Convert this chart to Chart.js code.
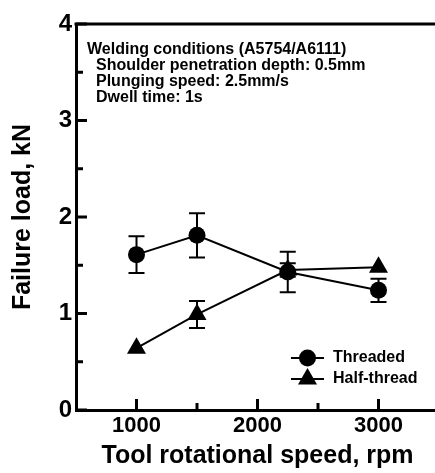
<!DOCTYPE html>
<html>
<head>
<meta charset="utf-8">
<script src="https://cdn.jsdelivr.net/npm/chart.js@4.4.1/dist/chart.umd.min.js"></script>
<style>
html, body { margin: 0; padding: 0; background: #fff; overflow: hidden; }
#wrap { position: relative; width: 450px; height: 473px; }
</style>
</head>
<body>
<div id="wrap"><canvas id="failure-load-chart" width="450" height="473"></canvas></div>
<script>
// Chart data
var speeds = [1000, 1500, 2250, 3000];
var threadedLoad = [1.61, 1.81, 1.43, 1.24];
var threadedErr = [0.19, 0.23, 0.21, 0.12];
var halfThreadLoad = [0.64, 0.99, 1.45, 1.48];
var halfThreadErr = [0, 0.14, 0.07, 0];
var seriesLabels = ["Threaded", "Half-thread"];

// Axes
var xTickValues = [1000, 2000, 3000];
var xMinorTicks = [1500, 2500];
var yMinorTicks = [0.5, 1.5, 2.5, 3.5];
var xTitle = "Tool rotational speed, rpm";
var yTitle = "Failure load, kN";
var conditionsText = [
    "Welding conditions (A5754/A6111)",
    "Shoulder penetration depth: 0.5mm",
    "Plunging speed: 2.5mm/s",
    "Dwell time: 1s"
];

var FONT = "'Liberation Sans', Arial, sans-serif";

function toPoints(load) {
    return speeds.map(function (s, i) { return { x: s, y: load[i] }; });
}

// error bars, inner ticks, frame top, notes and legend
var extrasPlugin = {
    id: 'extras',
    beforeDatasetsDraw: function (chart) {
        var ctx = chart.ctx, ys = chart.scales.y, xs = chart.scales.x;
        ctx.save();
        ctx.strokeStyle = '#000';
        ctx.lineWidth = 2;
        chart.data.datasets.forEach(function (ds) {
            ds.data.forEach(function (p, i) {
                var e = ds.errors[i];
                if (!e) return;
                var x = xs.getPixelForValue(p.x);
                var yTop = ys.getPixelForValue(p.y + e);
                var yBot = ys.getPixelForValue(p.y - e);
                ctx.beginPath();
                ctx.moveTo(x, yTop); ctx.lineTo(x, yBot);
                ctx.moveTo(x - 8, yTop); ctx.lineTo(x + 8, yTop);
                ctx.moveTo(x - 8, yBot); ctx.lineTo(x + 8, yBot);
                ctx.stroke();
            });
        });
        ctx.restore();
    },
    afterDraw: function (chart) {
        var ctx = chart.ctx, area = chart.chartArea;
        var xs = chart.scales.x, ys = chart.scales.y;
        ctx.save();
        ctx.strokeStyle = '#000';
        ctx.lineWidth = 3;
        // top frame line
        ctx.beginPath();
        ctx.moveTo(area.left - 1.5, area.top);
        ctx.lineTo(area.right, area.top);
        ctx.stroke();
        // inward ticks
        ctx.beginPath();
        xs.ticks.forEach(function (t) {
            var x = xs.getPixelForValue(t.value);
            ctx.moveTo(x, area.bottom); ctx.lineTo(x, area.bottom - 11);
        });
        xMinorTicks.forEach(function (v) {
            var x = xs.getPixelForValue(v);
            ctx.moveTo(x, area.bottom); ctx.lineTo(x, area.bottom - 7);
        });
        ys.ticks.forEach(function (t) {
            var y = ys.getPixelForValue(t.value);
            ctx.moveTo(area.left, y); ctx.lineTo(area.left + 11, y);
        });
        yMinorTicks.forEach(function (v) {
            var y = ys.getPixelForValue(v);
            ctx.moveTo(area.left, y); ctx.lineTo(area.left + 7, y);
        });
        ctx.stroke();

        // welding conditions note
        ctx.fillStyle = '#000';
        ctx.textBaseline = 'middle';
        ctx.font = 'bold 16px ' + FONT;
        conditionsText.forEach(function (line, i) {
            ctx.fillText(line, i === 0 ? 87 : 96, 50 + i * 15.7);
        });

        // legend
        ctx.font = 'bold 16px ' + FONT;
        ctx.lineWidth = 2;
        chart.data.datasets.forEach(function (ds, i) {
            var cy = 358 + i * 21;
            ctx.beginPath();
            ctx.moveTo(291, cy); ctx.lineTo(324, cy);
            ctx.stroke();
            ctx.fillStyle = '#000';
            Chart.helpers.drawPoint(ctx, {
                pointStyle: ds.pointStyle, radius: ds.pointRadius, rotation: 0, borderWidth: 0
            }, 307.5, cy);
            ctx.fillText(ds.label, 333, cy);
        });
        ctx.restore();
    }
};

var ctx = document.getElementById('failure-load-chart');

var config = {
    type: 'scatter',
    data: {
        datasets: [{
            label: seriesLabels[0],
            data: toPoints(threadedLoad),
            errors: threadedErr,
            showLine: true,
            borderColor: '#000',
            borderWidth: 2,
            pointStyle: 'circle',
            pointRadius: 8.5,
            pointBackgroundColor: '#000',
            pointBorderWidth: 0
        }, {
            label: seriesLabels[1],
            data: toPoints(halfThreadLoad),
            errors: halfThreadErr,
            showLine: true,
            borderColor: '#000',
            borderWidth: 2,
            pointStyle: 'triangle',
            pointRadius: 11,
            pointBackgroundColor: '#000',
            pointBorderWidth: 0
        }]
    },
    options: {
        responsive: false,
        animation: false,
        layout: { padding: { left: 0, right: 8, top: 24, bottom: 0 } },
        plugins: { legend: { display: false }, tooltip: { enabled: false } },
        scales: {
            x: {
                type: 'linear',
                min: 500,
                max: 3500,
                afterFit: function (s) { s.height = 63; },
                afterBuildTicks: function (s) {
                    s.ticks = xTickValues.map(function (v) { return { value: v }; });
                },
                ticks: {
                    font: { family: FONT, size: 22, weight: 'bold' }, color: '#000', padding: 3,
                    callback: function (v) { return String(v); }
                },
                grid: { display: false, drawTicks: false },
                border: { display: true, width: 3, color: '#000' },
                title: {
                    display: true, text: xTitle, color: '#000',
                    font: { family: FONT, size: 25, weight: 'bold' },
                    padding: { top: 0, bottom: 2 }
                }
            },
            y: {
                min: 0,
                max: 4,
                afterFit: function (s) { s.width = 76; },
                ticks: { stepSize: 1, font: { family: FONT, size: 24, weight: 'bold' }, color: '#000', padding: 4 },
                grid: { display: false, drawTicks: false },
                border: { display: true, width: 3, color: '#000' },
                title: {
                    display: true, text: yTitle, color: '#000',
                    font: { family: FONT, size: 25, weight: 'bold' },
                    padding: { top: 8, bottom: 0 }
                }
            }
        }
    },
    plugins: [extrasPlugin]
};

var failureChart = new Chart(ctx, config);
</script>
</body>
</html>
